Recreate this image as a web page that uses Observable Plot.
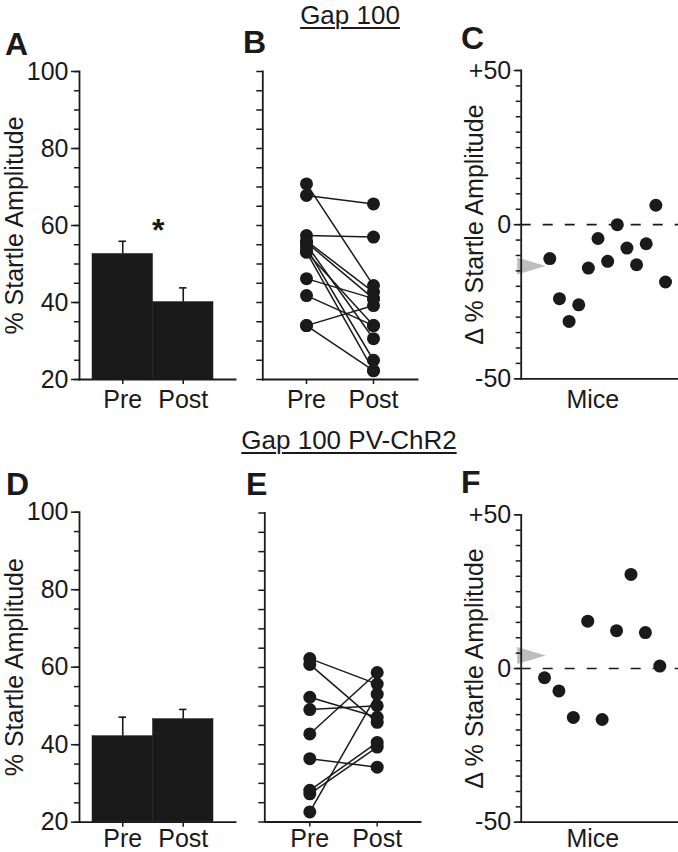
<!DOCTYPE html>
<html><head><meta charset="utf-8">
<script src="https://cdn.jsdelivr.net/npm/d3@7"></script>
<script src="https://cdn.jsdelivr.net/npm/@observablehq/plot@0.6"></script>
<style>
body{margin:0;background:#fff;}
#page{position:relative;width:678px;height:852px;overflow:hidden;font-family:"Liberation Sans",Arial,Helvetica,sans-serif;color:#1a1a1a;}
.panel{position:absolute;}
.title{position:absolute;font-size:26px;line-height:22px;white-space:nowrap;text-decoration:underline;text-decoration-thickness:1.6px;text-underline-offset:3px;transform:translateX(-50%);}
.letter{position:absolute;font-size:32px;line-height:24px;font-weight:bold;}
</style></head>
<body><div id="page"></div>
<script>
// ---------- data ----------
const conditions = ["Pre", "Post"];

// Gap 100 (A, B, C)
const gap100Means = [52.6, 40.1];
const gap100Sem = [3.3, 3.7];
const gap100Star = {condition: "Post", value: 58.7};
const gap100Pre  = [70.8, 67.8, 57.4, 56.0, 55.6, 55.0, 54.2, 53.1, 53.1, 46.2, 41.8, 34.0, 34.0];
const gap100Post = [44.4, 65.6, 57.0, 42.7, 41.0, 30.6, 25.0, 34.0, 22.3, 41.0, 34.0, 39.2, 22.3];
const gap100Delta = [-11.0, -24.0, -31.4, -26.0, -14.1, -4.5, -11.9, 0.0, -7.6, -13.0, -6.2, 6.3, -18.6];
const gap100MeanDelta = -13.4;

// Gap 100 PV-ChR2 (D, E, F)
const pvMeans = [42.2, 46.6];
const pvSem = [4.9, 2.5];
const pvPre  = [62.3, 60.8, 52.3, 49.1, 42.8, 36.4, 28.2, 27.3, 22.6];
const pvPost = [55.7, 45.8, 47.1, 50.1, 58.7, 34.2, 40.6, 39.4, 53.1];
const pvDelta = [-3.0, -7.3, -15.9, 15.4, -16.6, 12.3, 30.6, 11.7, 0.8];
const pvMeanDelta = 4.2;

// ticks
const pctDomain = [20, 100];
const pctTicks = [20, 40, 60, 80, 100];
const pctMinorTicks = [20, 25, 30, 35, 40, 45, 50, 55, 60, 65, 70, 75, 80, 85, 90, 95, 100];
const deltaDomain = [-50, 50];
const deltaTicks = [-50, 0, 50];
const deltaTickLabels = ["-50", "0", "+50"];
const deltaMinorTicks = [-50, -45, -40, -35, -30, -25, -20, -15, -10, -5, 0, 5, 10, 15, 20, 25, 30, 35, 40, 45, 50];

// ---------- helpers ----------
const FONT = '"Liberation Sans", Arial, Helvetica, sans-serif';
const INK = "#1a1a1a";
const FS = 25;
const page = document.getElementById("page");

function style() {
  return {fontFamily: FONT, fontSize: FS + "px", color: INK, background: "transparent", overflow: "visible"};
}
function place(node, left, top) {
  const d = document.createElement("div");
  d.className = "panel";
  d.style.left = left + "px";
  d.style.top = top + "px";
  d.append(node);
  page.append(d);
}
function frames() {
  return [
    Plot.frame({anchor: "left", stroke: INK, strokeWidth: 1.8}),
    Plot.frame({anchor: "bottom", stroke: INK, strokeWidth: 1.8})
  ];
}
const triangle = {
  draw(ctx) { ctx.moveTo(-4, -8.5); ctx.lineTo(24.5, 0); ctx.lineTo(-4, 8.5); ctx.closePath(); }
};

function barPanel({means, sem, star, mT, mB, H, pad}) {
  const rows = conditions.map((c, i) => ({c, m: means[i], e: sem[i]}));
  const marks = [
    Plot.barY(rows, {x: "c", y1: pctDomain[0], y2: "m", fill: INK, stroke: INK, strokeWidth: 0.5}),
    Plot.ruleX(rows, {x: "c", y1: "m", y2: d => d.m + d.e, stroke: INK, strokeWidth: 1.6}),
    Plot.tickY(rows, {x: "c", y: d => d.m + d.e, insetLeft: 26.5, insetRight: 26.5, stroke: INK, strokeWidth: 1.6}),
    Plot.axisY({ticks: pctMinorTicks, tickSize: 5, tickFormat: () => "", label: null, strokeWidth: 1.5}),
    Plot.axisY({ticks: pctTicks, tickSize: 8, tickPadding: 3, fontSize: FS, strokeWidth: 1.5,
      label: "% Startle Amplitude", labelAnchor: "center", labelOffset: 74, labelArrow: "none"}),
    Plot.axisX({tickSize: 5, tickPadding: pad, fontSize: FS, label: null, strokeWidth: 1.5}),
    ...frames()
  ];
  if (star) marks.push(Plot.text([star], {x: "condition", y: "value", text: () => "*", fontSize: 32, fontWeight: "bold", dx: -25}));
  return Plot.plot({
    width: 240, height: H, marginLeft: 79, marginRight: 5, marginTop: mT, marginBottom: mB,
    style: style(),
    x: {type: "band", domain: conditions, range: [92, 213], padding: 0, round: false},
    y: {domain: pctDomain},
    marks
  });
}

function pairPanel({pre, post, mL, mR, mT, mB, H, xr, pad}) {
  const pairs = pre.map((p, i) => ({pre: p, post: post[i]}));
  const pts = pairs.flatMap(d => [{c: "Pre", v: d.pre}, {c: "Post", v: d.post}]);
  return Plot.plot({
    width: 195, height: H, marginLeft: mL, marginRight: mR, marginTop: mT, marginBottom: mB,
    style: style(),
    x: {type: "point", domain: conditions, range: xr, padding: 0, round: false},
    y: {domain: pctDomain},
    marks: [
      Plot.link(pairs, {x1: () => "Pre", y1: "pre", x2: () => "Post", y2: "post", stroke: INK, strokeWidth: 1.5}),
      Plot.dot(pts, {x: "c", y: "v", r: 6.5, fill: INK}),
      Plot.axisY({ticks: pctMinorTicks, tickSize: 6, tickFormat: () => "", label: null, strokeWidth: 1.5}),
      Plot.axisX({tickSize: 5, tickPadding: pad, fontSize: FS, label: null, strokeWidth: 1.5}),
      ...frames()
    ]
  });
}

function deltaPanel({delta, mean, mT, mB, H, xr, miceDy}) {
  const rows = delta.map((d, i) => ({i: i + 1, d}));
  return Plot.plot({
    width: 243, height: H, marginLeft: 85.7, marginRight: 0, marginTop: mT, marginBottom: mB,
    style: style(),
    x: {domain: [1, delta.length], range: xr, axis: null},
    y: {domain: deltaDomain},
    marks: [
      Plot.ruleY([0], {stroke: INK, strokeWidth: 1.6, strokeDasharray: "10,12"}),
      Plot.dot(rows, {x: "i", y: "d", r: 6.5, fill: INK}),
      Plot.dot([mean], {y: d => d, frameAnchor: "left", symbol: triangle, r: 1, fill: "#bdbdbd"}),
      Plot.axisY({ticks: deltaMinorTicks, tickSize: 5, tickFormat: () => "", label: null, strokeWidth: 1.5}),
      Plot.axisY({ticks: deltaTicks, tickSize: 7, tickPadding: 3, fontSize: FS, strokeWidth: 1.5,
        tickFormat: d => deltaTickLabels[deltaTicks.indexOf(d)],
        label: "Δ % Startle Amplitude", labelAnchor: "center", labelOffset: 56, labelArrow: "none"}),
      Plot.text(["Mice"], {frameAnchor: "bottom", lineAnchor: "top", dy: miceDy, dx: -7, fontSize: FS}),
      ...frames()
    ]
  });
}

// ---------- top row: Gap 100 ----------
place(barPanel({means: gap100Means, sem: gap100Sem, star: gap100Star, mT: 71, mB: 46, H: 425, pad: 6}), 0, 0);
place(pairPanel({pre: gap100Pre, post: gap100Post, mL: 22.3, mR: 18, mT: 71, mB: 46, H: 425, xr: [66, 133], pad: 6}), 240, 0);
place(deltaPanel({delta: gap100Delta, mean: gap100MeanDelta, mT: 70, mB: 46.7, H: 425, xr: [114.3, 230], miceDy: 11}), 435, 0);

// ---------- bottom row: Gap 100 PV-ChR2 ----------
place(barPanel({means: pvMeans, sem: pvSem, star: null, mT: 86.7, mB: 30.3, H: 427, pad: 2}), 0, 425);
place(pairPanel({pre: pvPre, post: pvPost, mL: 24.3, mR: 15, mT: 87.5, mB: 30.5, H: 427, xr: [69.3, 136.7], pad: 2}), 240, 425);
place(deltaPanel({delta: pvDelta, mean: pvMeanDelta, mT: 89.3, mB: 30.3, H: 427, xr: [109, 224.3], miceDy: 7}), 435, 425);

// ---------- titles and panel letters ----------
function addText(cls, txt, left, top) {
  const d = document.createElement("div");
  d.className = cls; d.textContent = txt;
  d.style.left = left + "px"; d.style.top = top + "px";
  page.append(d);
}
// title: line-height 22 -> baseline ≈ top + 19.3
addText("title", "Gap 100", 350, 4);
addText("title", "Gap 100 PV-ChR2", 349, 429);
// letters: line-height 24 -> baseline ≈ top + 23
const letters = [["A", 5, 32], ["B", 243, 30], ["C", 461, 25.5], ["D", 6, 472], ["E", 246, 472], ["F", 461, 469.5]];
letters.forEach(([t, x, y]) => addText("letter", t, x, y));
</script>
</body></html>
